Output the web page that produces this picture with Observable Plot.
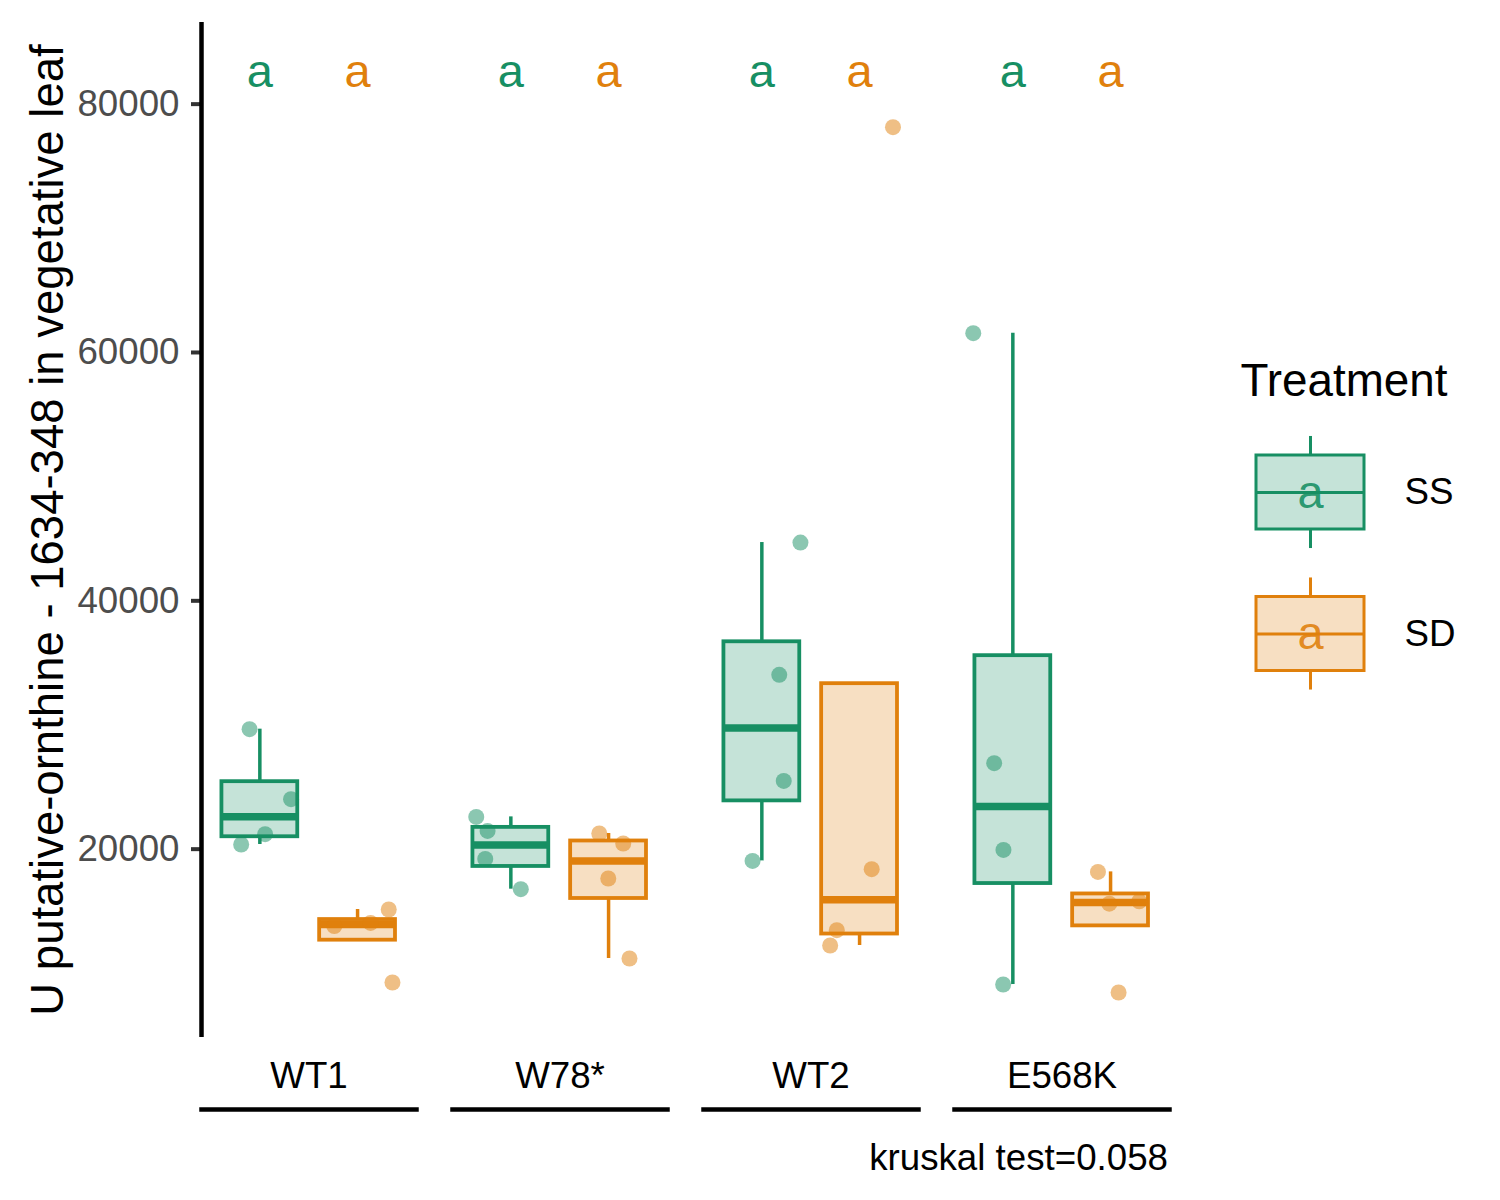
<!DOCTYPE html>
<html><head><meta charset="utf-8">
<script src="https://cdn.jsdelivr.net/npm/d3@7"></script>
<script src="https://cdn.jsdelivr.net/npm/@observablehq/plot@0.6"></script>
<style>
body{margin:0;background:#fff;}
#wrap{position:relative;width:1500px;height:1200px;font-family:"Liberation Sans",Arial,Helvetica,sans-serif;background:#fff;}
#legend{position:absolute;left:1200px;top:340px;}
#caption{position:absolute;right:332px;top:1140px;font-size:36.7px;line-height:36.7px;color:#000;white-space:nowrap;}
</style></head><body><div id="wrap"></div>
<script>
// ---- data ----
const genotypes = ["WT1", "W78*", "WT2", "E568K"];
const treatments = ["SS", "SD"];
const ssValues = [
  [29663, 24025, 21206, 20377],
  [22600, 21472, 19217, 16777],
  [44694, 34036, 25499, 19056],
  [61557, 26925, 19942, 9101]
];
const sdValues = [
  [13805, 14061, 15142, 9262],
  [21263, 20457, 17638, 11195],
  [18387, 13474, 12242, 78148],
  [18170, 15609, 15801, 8457]
];
// horizontal jitter of each point (in units of the SS-SD spacing)
const ssJitter = [
  [-0.105, 0.319, 0.054, -0.191],
  [-0.354, -0.238, -0.262, 0.102],
  [0.395, 0.178, 0.224, -0.095],
  [-0.405, -0.191, -0.096, -0.099]
];
const sdJitter = [
  [-0.238, 0.133, 0.319, 0.357],
  [-0.095, 0.15, -0.003, 0.214],
  [0.124, -0.233, -0.301, 0.342],
  [-0.129, -0.013, 0.293, 0.082]
];
const ssLetters = ["a", "a", "a", "a"];
const sdLetters = ["a", "a", "a", "a"];
const yTicks = [20000, 40000, 60000, 80000];
const yDomain = [4832, 86575];
const treatmentColors = ["#178F63", "#E0800C"];
const yTitle = "U putative-ornthine - 1634-348 in vegetative leaf";
const legendTitle = "Treatment";
const captionText = "kruskal test=0.058";

// ---- derived tables ----
const FONT = '"Liberation Sans", Arial, Helvetica, sans-serif';
const valuesBy = {SS: ssValues, SD: sdValues};
const jitterBy = {SS: ssJitter, SD: sdJitter};
const lettersBy = {SS: ssLetters, SD: sdLetters};

const points = [];
const stats = [];
const letters = [];
genotypes.forEach((g, gi) => {
  treatments.forEach((t, ti) => {
    const vals = valuesBy[t][gi];
    vals.forEach((v, k) => points.push({genotype: g, treatment: t, xi: ti + jitterBy[t][gi][k], value: v}));
    const s = vals.slice().sort(d3.ascending);
    const q1 = d3.quantile(s, 0.25), med = d3.quantile(s, 0.5), q3 = d3.quantile(s, 0.75);
    const iqr = q3 - q1;
    const lo = d3.min(s.filter(v => v >= q1 - 1.5 * iqr));
    const hi = d3.max(s.filter(v => v <= q3 + 1.5 * iqr));
    stats.push({genotype: g, treatment: t, xi: ti, q1, med, q3, lo: Math.min(lo, q1), hi: Math.max(hi, q3)});
    letters.push({genotype: g, treatment: t, xi: ti, letter: lettersBy[t][gi]});
  });
});

const HW = 0.388; // half box width in x units
const xDomain = [-0.597, 1.603];

const chart = Plot.plot({
  width: 1500,
  height: 1200,
  marginLeft: 200,
  marginRight: 330,
  marginTop: 22,
  marginBottom: 163,
  style: {fontFamily: FONT, background: "white", overflow: "visible"},
  fx: {domain: genotypes, paddingInner: 0.143, paddingOuter: 0, label: null},
  x: {domain: xDomain, axis: null},
  y: {domain: yDomain},
  color: {domain: treatments, range: treatmentColors},
  marks: [
    Plot.axisY({ticks: yTicks, tickFormat: d3.format("d"), tickSize: 10, tickPadding: 12,
      fontSize: 36.7, fill: "#4D4D4D", stroke: "#333333", strokeWidth: 4, label: null}),
    Plot.ruleX([{genotype: genotypes[0]}], {fx: "genotype", x: () => xDomain[0], stroke: "black", strokeWidth: 4.5}),
    Plot.text([{genotype: genotypes[0], t: yTitle}], {fx: "genotype", text: "t", frameAnchor: "left",
      rotate: -90, dx: -153, fontSize: 45.5, fill: "black", textAnchor: "middle"}),
    Plot.axisFx({anchor: "bottom", tickSize: 0, tickPadding: 24, fontSize: 36.7, fill: "black", label: null}),
    Plot.frame({anchor: "bottom", dy: 72, stroke: "black", strokeWidth: 4.5}),
    Plot.ruleX(stats, {fx: "genotype", x: "xi", y1: "lo", y2: "q1", stroke: "treatment", strokeWidth: 3.5}),
    Plot.ruleX(stats, {fx: "genotype", x: "xi", y1: "q3", y2: "hi", stroke: "treatment", strokeWidth: 3.5}),
    Plot.rect(stats, {fx: "genotype", x1: d => d.xi - HW, x2: d => d.xi + HW, y1: "q1", y2: "q3",
      fill: "treatment", fillOpacity: 0.25, stroke: "treatment", strokeWidth: 3.8}),
    Plot.ruleY(stats, {fx: "genotype", x1: d => d.xi - HW, x2: d => d.xi + HW, y: "med",
      stroke: "treatment", strokeWidth: 7.5}),
    Plot.dot(points, {fx: "genotype", x: "xi", y: "value", r: 8, fill: "treatment", fillOpacity: 0.5, stroke: null}),
    Plot.text(letters, {fx: "genotype", x: "xi", text: "letter", fill: "treatment", frameAnchor: "top",
      lineAnchor: "bottom", dy: 64, fontSize: 47})
  ]
});

// ---- legend ----
const legendRows = treatments.map((t, i) => ({treatment: t, i, letter: lettersBy[t][0]}));
const KH = 0.2615, WH = 0.396;
const legend = Plot.plot({
  width: 300,
  height: 380,
  margin: 0,
  style: {fontFamily: FONT, background: "transparent", overflow: "visible"},
  x: {domain: [0, 1], range: [56, 164], axis: null},
  y: {domain: [0, 1], range: [152, 293.5], axis: null},
  color: {domain: treatments, range: treatmentColors},
  marks: [
    Plot.text([legendTitle], {frameAnchor: "top-left", dx: 40, dy: 55, lineAnchor: "bottom",
      textAnchor: "start", fontSize: 45.8, fill: "black"}),
    Plot.ruleX(legendRows, {x: 0.5, y1: d => d.i - WH, y2: d => d.i - KH, stroke: "treatment", strokeWidth: 3}),
    Plot.ruleX(legendRows, {x: 0.5, y1: d => d.i + KH, y2: d => d.i + WH, stroke: "treatment", strokeWidth: 3}),
    Plot.rect(legendRows, {x1: 0, x2: 1, y1: d => d.i - KH, y2: d => d.i + KH, fill: "treatment",
      fillOpacity: 0.25, stroke: "treatment", strokeWidth: 3}),
    Plot.ruleY(legendRows, {x1: 0, x2: 1, y: "i", stroke: "treatment", strokeWidth: 3}),
    Plot.text(legendRows, {x: 0.5, y: "i", text: "letter", fill: "treatment", fontSize: 47, fillOpacity: 0.9}),
    Plot.text(legendRows, {frameAnchor: "left", y: "i", dx: 204, text: "treatment", textAnchor: "start",
      fontSize: 36.7, fill: "black"})
  ]
});

const wrap = document.getElementById("wrap");
wrap.appendChild(chart);
const lg = document.createElement("div");
lg.id = "legend";
lg.appendChild(legend);
wrap.appendChild(lg);
const cap = document.createElement("div");
cap.id = "caption";
cap.textContent = captionText;
wrap.appendChild(cap);
</script></body></html>
